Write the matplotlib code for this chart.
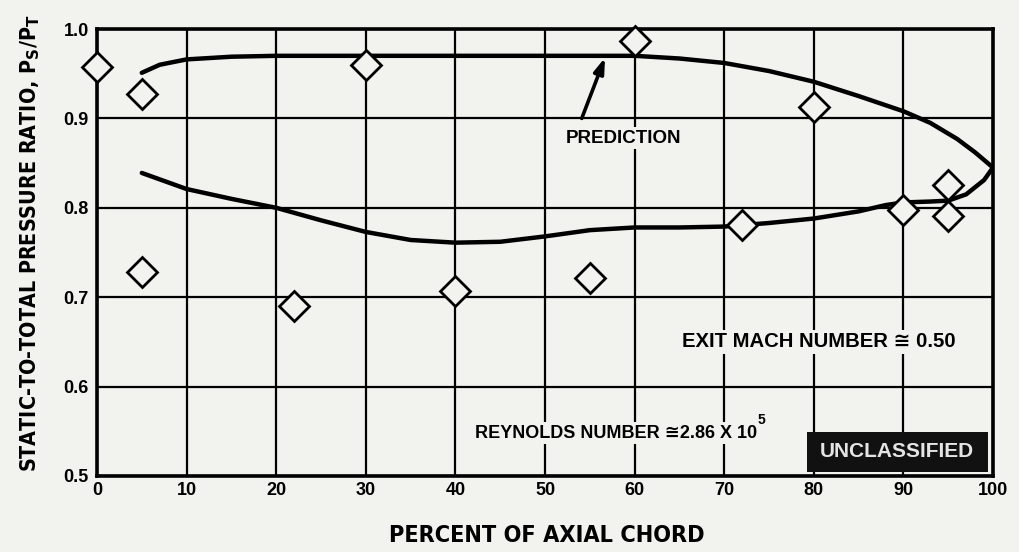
import matplotlib
matplotlib.use("Agg")
import matplotlib.pyplot as plt
from matplotlib.patches import Rectangle

# ---- data ----
meas_x = [0, 5, 5, 22, 30, 40, 55, 60, 72, 80, 90, 95, 95]
meas_y = [0.957, 0.927, 0.728, 0.690, 0.960, 0.707, 0.721, 0.987, 0.781, 0.913, 0.798, 0.825, 0.791]

upper_x = [5, 7, 10, 15, 20, 30, 40, 50, 60, 65, 70, 75, 80, 85, 90, 93, 96, 98, 100]
upper_y = [0.951, 0.960, 0.966, 0.969, 0.970, 0.970, 0.970, 0.970, 0.970, 0.967,
           0.962, 0.953, 0.941, 0.925, 0.908, 0.895, 0.877, 0.862, 0.845]

lower_x = [5, 10, 15, 20, 25, 30, 35, 40, 45, 50, 55, 60, 65, 70, 75, 80, 85, 88,
           90, 93, 95, 97, 99, 100]
lower_y = [0.839, 0.821, 0.810, 0.800, 0.786, 0.773, 0.764, 0.761, 0.762, 0.768,
           0.775, 0.778, 0.778, 0.779, 0.783, 0.788, 0.796, 0.803, 0.806, 0.807,
           0.808, 0.815, 0.831, 0.845]

x_ticks = [0, 10, 20, 30, 40, 50, 60, 70, 80, 90, 100]
y_ticks = [0.5, 0.6, 0.7, 0.8, 0.9, 1.0]
y_tick_labels = ["0.5", "0.6", "0.7", "0.8", "0.9", "1.0"]

BG = "#f2f2ef"
W, H = 1019, 552
FONT = ["Liberation Sans", "DejaVu Sans"]

fig = plt.figure(figsize=(W / 100, H / 100), dpi=100, facecolor=BG)
ax = fig.add_axes([97 / W, (H - 476) / H, (993 - 97) / W, (476 - 29) / H], facecolor=BG)
ax.set_xlim(0, 100)
ax.set_ylim(0.5, 1.0)

ax.set_xticks(x_ticks)
ax.set_yticks(y_ticks)
ax.set_yticklabels(y_tick_labels)
ax.tick_params(length=0, labelsize=13)
ax.tick_params(axis="x", pad=4)
ax.tick_params(axis="y", pad=6)
for lbl in ax.get_xticklabels() + ax.get_yticklabels():
    lbl.set_fontweight("bold")
    lbl.set_family(FONT)
ax.grid(True, color="black", linewidth=1.6)
ax.set_axisbelow(True)
for s in ax.spines.values():
    s.set_linewidth(2.6)
    s.set_color("black")

ax.plot(upper_x, upper_y, color="black", linewidth=3.2, solid_capstyle="round", zorder=3)
ax.plot(lower_x, lower_y, color="black", linewidth=3.2, solid_capstyle="round", zorder=3)
ax.plot(meas_x, meas_y, linestyle="none", marker="D", markersize=15.5,
        markerfacecolor=BG, markeredgecolor="black", markeredgewidth=2.0,
        zorder=4, clip_on=False)

tb = dict(facecolor=BG, edgecolor="none", pad=2)
ax.annotate("", xy=(56.7, 0.968), xytext=(54.1, 0.900),
            arrowprops=dict(arrowstyle="-|>,head_length=0.9,head_width=0.3",
                            color="black", lw=2.6, shrinkA=0, shrinkB=0),
            zorder=5)
ax.text(58.8, 0.878, "PREDICTION", ha="center", va="center", fontsize=13.5,
        fontweight="bold", family=FONT, bbox=tb, zorder=5)
ax.text(95.8, 0.650, "EXIT MACH NUMBER \u2245 0.50", ha="right", va="center",
        fontsize=14.6, fontweight="bold", family=FONT, bbox=tb, zorder=5)
ax.text(42.2, 0.548, "REYNOLDS NUMBER \u22452.86 X 10", ha="left", va="center",
        fontsize=13, fontweight="bold", family=FONT, bbox=tb, zorder=5)
ax.text(73.75, 0.563, "5", ha="left", va="center", fontsize=10, fontweight="bold",
        family=FONT, zorder=5)

ax.add_patch(Rectangle((79.2, 0.504), 20.2, 0.045, facecolor="#111111",
                       edgecolor="none", zorder=6))
ax.text(89.3, 0.527, "UNCLASSIFIED", ha="center", va="center", color="#e4e4e4",
        fontsize=15, fontweight="bold", family=FONT, zorder=7)

fig.text(30 / W, 1 - 243 / H, "STATIC-TO-TOTAL PRESSURE RATIO, P$_\\mathbf{S}$/P$_\\mathbf{T}$",
         rotation=90, ha="center", va="center", fontsize=15.4, fontweight="bold",
         family="DejaVu Sans", fontstretch="condensed")
fig.text(547 / W, 1 - 535 / H, "PERCENT OF AXIAL CHORD", ha="center", va="center",
         fontsize=16.8, fontweight="bold", family="DejaVu Sans", fontstretch="condensed")

fig.savefig("out.png", dpi=100, facecolor=BG)
